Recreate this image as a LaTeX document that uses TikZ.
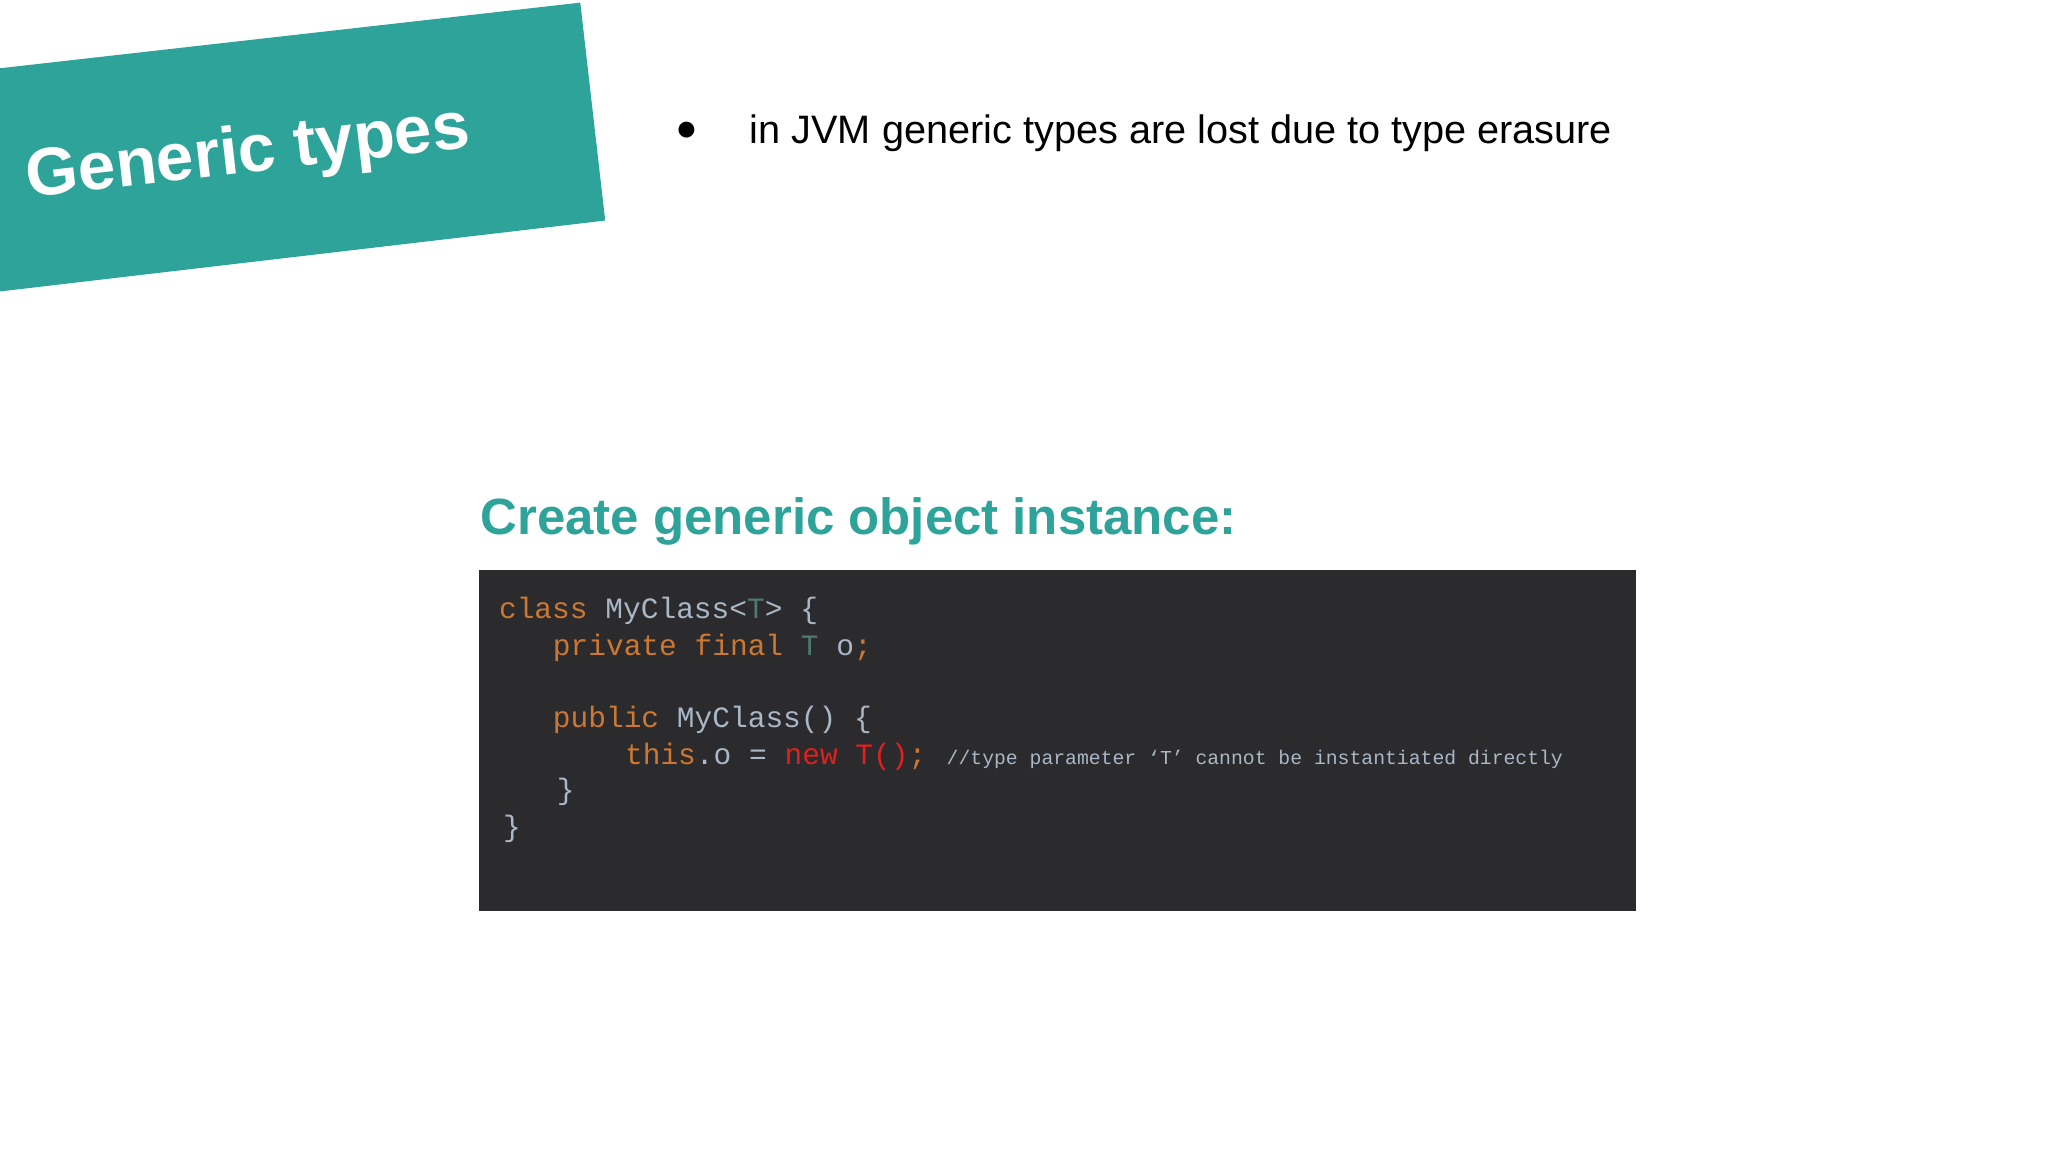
\documentclass[tikz,border=0pt]{standalone}
\usepackage{fontspec}
\setmainfont{Liberation Sans}
\setmonofont{Liberation Mono}
\definecolor{teal}{HTML}{2DA39A}
\definecolor{codebg}{HTML}{2B2A2D}
\definecolor{kw}{HTML}{CC7832}
\definecolor{pl}{HTML}{A9B7C6}
\definecolor{tp}{HTML}{507874}
\definecolor{rd}{HTML}{E0201C}
\begin{document}
\begin{tikzpicture}[x=0.05cm,y=-0.05cm,
  code/.style={anchor=base west,inner sep=0pt,font=\fontsize{32}{32}\ttfamily,text=pl},
  cmt/.style={anchor=base west,inner sep=0pt,font=\fontsize{21.4}{22}\ttfamily,text=pl}]
\useasboundingbox (0,0) rectangle (1560,877.5);
\fill[teal] (0,52) -- (442,2) -- (461,168) -- (0,222) -- cycle;
\node[rotate=6.5,text=white,font=\fontsize{73}{73}\bfseries,inner sep=0pt] (title) at (189,118) {Generic types};
\node[font=\fontsize{40}{40}\selectfont,inner sep=0pt] (bul) at (523,100) {●};
\node[anchor=base west,inner sep=0pt,font=\fontsize{43}{43}\selectfont] (txt) at (571,109) {in JVM generic types are lost due to type erasure};
\node[anchor=base west,inner sep=0pt,text=teal,font=\fontsize{55.2}{55}\bfseries] (head) at (366,407) {Create generic object instance:};
\fill[codebg] (365,434) rectangle (1246,694);
\node[code] (l1) at (380,471) {\textcolor{kw}{class} MyClass<\textcolor{tp}{T}> \{};
\node[code] (l2) at (421,499) {\textcolor{kw}{private final} \textcolor{tp}{T} o\textcolor{kw}{;}};
\node[code] (l3) at (421,554) {\textcolor{kw}{public} MyClass() \{};
\node[code] (l4) at (476,582) {\textcolor{kw}{this}.o = \textcolor{rd}{new T()}\textcolor{kw}{;}};
\node[cmt] (l4c) at (721,582) {//type parameter ‘T’ cannot be instantiated directly};
\node[code] (l5) at (424,609) {\}};
\node[code] (l6) at (383,637) {\}};
\end{tikzpicture}
\end{document}
